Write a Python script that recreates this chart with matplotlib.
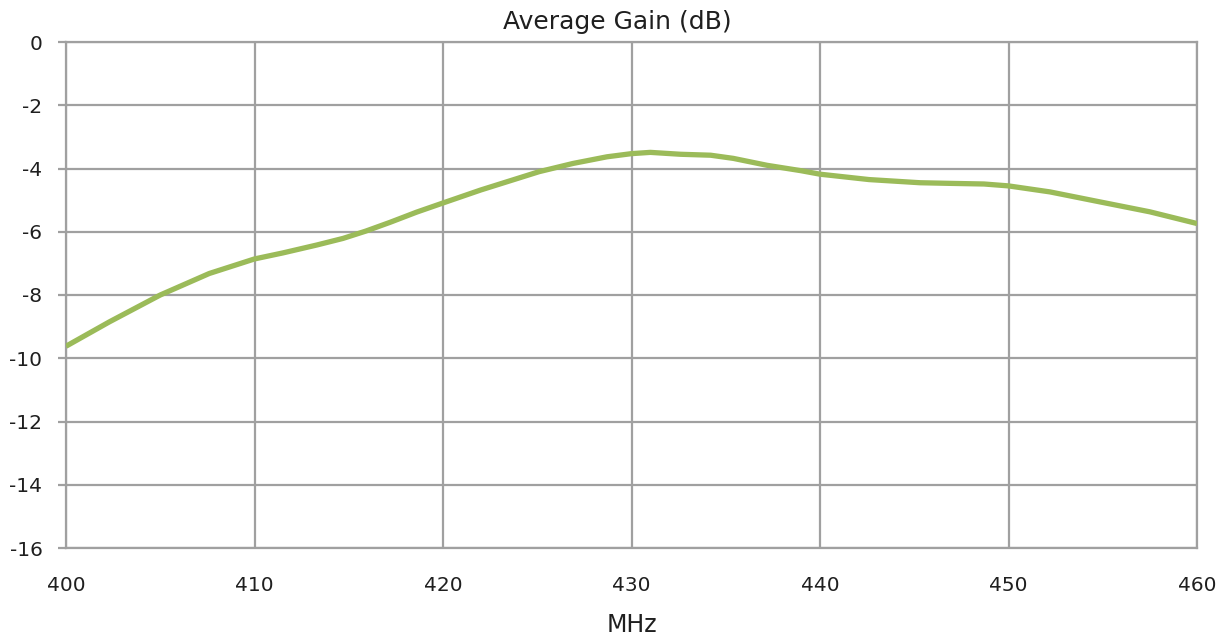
import numpy as np
import matplotlib.pyplot as plt

# values
freq_mhz = [400.0, 402.3, 405.0, 407.6, 410.0, 411.5, 413.3, 414.7, 415.9,
            417.2, 418.6, 420.0, 422.0, 425.1, 426.9, 428.7, 430.0, 431.0,
            432.6, 434.2, 435.4, 437.2, 439.0, 440.0, 442.6, 445.3, 446.9,
            448.7, 450.0, 452.2, 454.8, 457.5, 460.0]
gain_db = [-9.62, -8.85, -8.00, -7.32, -6.86, -6.67, -6.42, -6.21, -5.98,
           -5.70, -5.38, -5.09, -4.68, -4.10, -3.84, -3.63, -3.53, -3.49,
           -3.55, -3.58, -3.68, -3.90, -4.07, -4.18, -4.35, -4.45, -4.47,
           -4.49, -4.55, -4.74, -5.05, -5.37, -5.74]

x_ticks = [400, 410, 420, 430, 440, 450, 460]
y_ticks = [0, -2, -4, -6, -8, -10, -12, -14, -16]

grid_col = "#a0a0a0"
text_col = "#1f1f1f"

fig = plt.figure(figsize=(12.28, 6.36), dpi=100)
ax = fig.add_axes([66 / 1228, 1 - 548 / 636, (1197 - 66) / 1228, (548 - 42) / 636])

ax.plot(freq_mhz, gain_db, color="#9bbb59", linewidth=3.8,
        solid_capstyle="butt", solid_joinstyle="round", zorder=3)

ax.set_xlim(400, 460)
ax.set_ylim(-16, 0)
ax.set_xticks(x_ticks)
ax.set_yticks(y_ticks)
ax.set_yticklabels([str(v) for v in y_ticks])
ax.grid(True, color=grid_col, linewidth=1.6)

for side in ["left", "bottom", "right", "top"]:
    ax.spines[side].set_color(grid_col)
    ax.spines[side].set_linewidth(1.6)

ax.tick_params(axis="y", length=6, width=1.6, color=grid_col, pad=11,
               labelsize=14.5, labelcolor=text_col)
ax.tick_params(axis="x", length=0, pad=20, labelsize=14.5, labelcolor=text_col)

# chart title is centred on the whole chart area, like Excel does
fig.text(617 / 1228, 1 - 29 / 636, "Average Gain (dB)", fontsize=18,
         color=text_col, ha="center", va="baseline")
ax.set_xlabel("MHz", fontsize=17, color=text_col, labelpad=13)

fig.savefig("out.png", dpi=100)
